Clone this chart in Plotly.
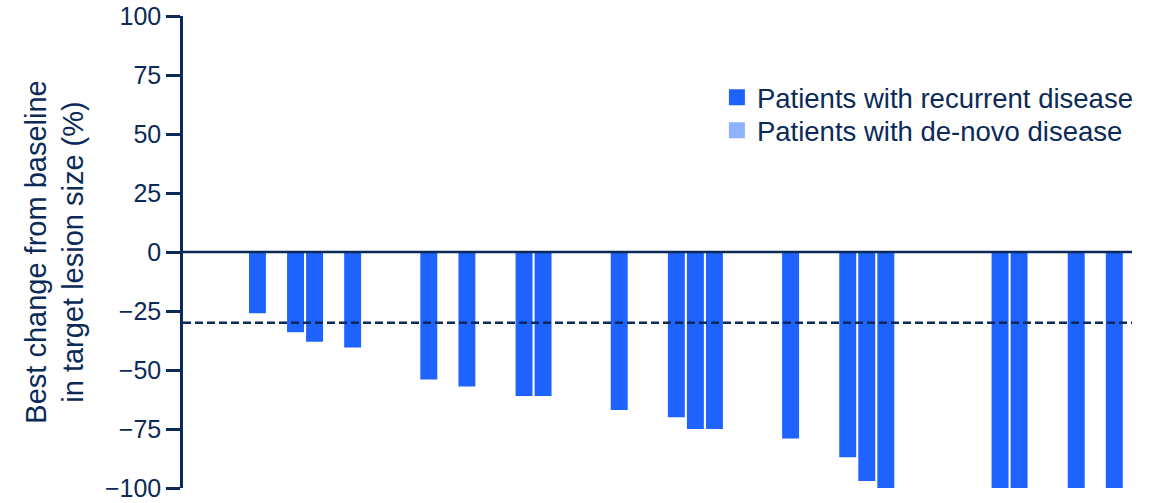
import plotly.graph_objects as go

# Patient slots along the x axis (1-based); empty slots have no measured change
patients = list(range(1, 47))

# Best change from baseline in target lesion size (%), recurrent disease
recurrent = [
    -26, None, -34, -38, None, -40.5, None, None, None, -54,
    None, -57, None, None, -61, -61, None, None, None, -67,
    None, None, -70, -75, -75, None, None, None, -79, None,
    None, -87, -97, -100, None, None, None, None, None, -100,
    -100, None, None, -100, None, -100,
]

# De-novo disease: no bars in this cohort view
de_novo = [None] * len(patients)

threshold = -30
y_ticks = [-100, -75, -50, -25, 0, 25, 50, 75, 100]

navy = "#0b2a57"
blue_dark = "#1f63ff"
blue_light = "#8fb2ff"
font_family = "Liberation Sans, Arial, sans-serif"

fig = go.Figure()

fig.add_trace(go.Bar(
    x=patients, y=recurrent, width=0.89,
    marker=dict(color=blue_dark, line=dict(width=0)),
    name="Patients with recurrent disease", showlegend=False,
))
fig.add_trace(go.Bar(
    x=patients, y=de_novo, width=0.89,
    marker=dict(color=blue_light, line=dict(width=0)),
    name="Patients with de-novo disease", showlegend=False,
))

# Legend entries with larger square swatches, one legend box per row
fig.add_trace(go.Scatter(
    x=[None], y=[None], mode="markers",
    marker=dict(symbol="square", size=17, color=blue_dark),
    name="Patients with recurrent disease", legend="legend",
))
fig.add_trace(go.Scatter(
    x=[None], y=[None], mode="markers",
    marker=dict(symbol="square", size=17, color=blue_light),
    name="Patients with de-novo disease", legend="legend2",
))

# Baseline and -30% response threshold
fig.add_shape(type="line", xref="paper", yref="y", x0=0, x1=1, y0=0, y1=0,
              line=dict(color=navy, width=2.5), layer="above")
fig.add_shape(type="line", xref="paper", yref="y", x0=0, x1=1, y0=threshold, y1=threshold,
              line=dict(color=navy, width=2.5, dash="8px,4px"), layer="above")

legend_style = dict(
    xanchor="left", yanchor="middle",
    font=dict(size=27.5, color=navy),
    bgcolor="rgba(0,0,0,0)", borderwidth=0, itemsizing="trace",
)

fig.update_layout(
    width=1158, height=503,
    margin=dict(l=183, r=26, t=15.5, b=14.5),
    paper_bgcolor="white", plot_bgcolor="white",
    barmode="overlay",
    font=dict(family=font_family, size=25, color=navy),
    legend=dict(x=0.5626, y=0.8277, **legend_style),
    legend2=dict(x=0.5626, y=0.7579, **legend_style),
    xaxis=dict(
        range=[-2.91, 46.93], visible=False, showgrid=False, zeroline=False,
    ),
    yaxis=dict(
        range=[-100, 100], tickvals=y_ticks,
        ticks="outside", ticklen=14, tickwidth=2.5, tickcolor=navy,
        showline=True, linecolor=navy, linewidth=2.5,
        showgrid=False, zeroline=False, automargin=False,
        ticklabeloverflow="allow",
        tickfont=dict(size=25, color=navy),
        title=dict(text="Best change from baseline<br>in target lesion size (%)",
                   font=dict(size=29, color=navy), standoff=13),
    ),
)

fig.write_html("out.html")
